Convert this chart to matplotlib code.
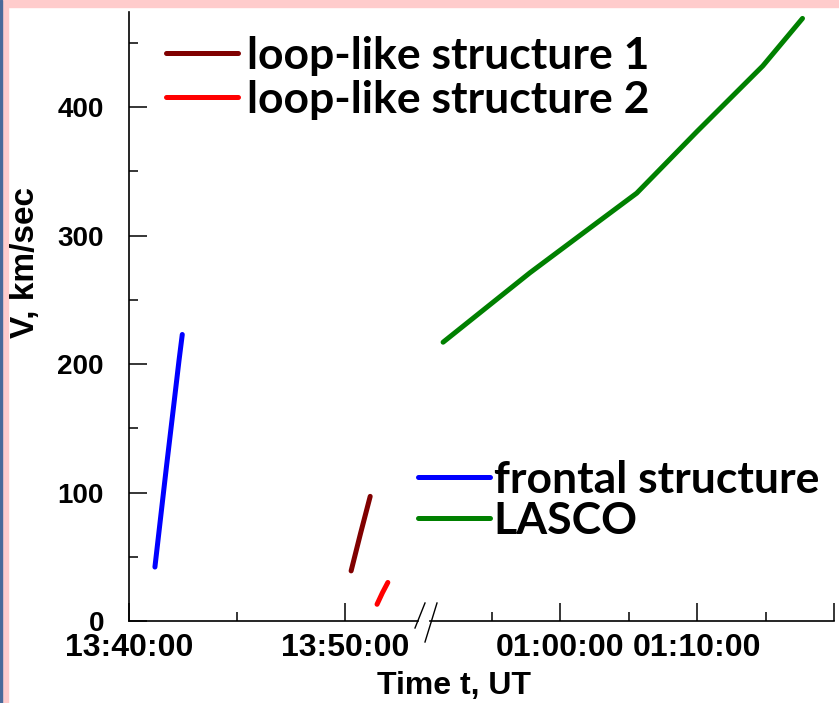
import matplotlib
matplotlib.use("Agg")
import matplotlib.pyplot as plt
from matplotlib.lines import Line2D
from matplotlib.ticker import MultipleLocator, FuncFormatter

# --- data ---
frontal_t = ["13:41:12", "13:41:28", "13:41:44", "13:41:55", "13:42:06", "13:42:19", "13:42:28"]
frontal_v = [42, 81, 120, 146, 172, 203, 223]

loop1_t = ["13:50:17", "13:50:43", "13:51:10"]
loop1_v = [39, 68, 97]

loop2_t = ["13:51:29", "13:51:44", "13:51:59"]
loop2_v = [13, 22, 30]

lasco_t = ["00:51:28", "00:57:48", "01:02:42", "01:05:36", "01:10:00", "01:14:48", "01:17:42"]
lasco_v = [217, 271, 310, 333, 381, 432, 469]

left_ticks = ["13:40:00", "13:50:00"]
right_ticks = ["01:00:00", "01:10:00", "01:20:00"]


def to_min(s):
    h, m, sec = [int(v) for v in s.split(":")]
    return h * 60 + m + sec / 60.0


def fmt(x, pos):
    x = int(round(x * 60))
    return "%02d:%02d:%02d" % (x // 3600, (x // 60) % 60, x % 60)


W, H = 839, 703
fig = plt.figure(figsize=(W / 100, H / 100), dpi=100)
fig.patch.set_facecolor("white")

# pink frame of the original screenshot
fig.add_artist(plt.Rectangle((0, 1 - 7 / H), 1, 7 / H, transform=fig.transFigure,
                             color="#ffcccc", zorder=0))
fig.add_artist(plt.Rectangle((0, 0), 8 / W, 1, transform=fig.transFigure,
                             color="#ffcccc", zorder=0))
fig.add_artist(plt.Rectangle((0, 0), 1.5 / W, 1, transform=fig.transFigure,
                             color="#4a6a9a", zorder=0))


def px_axes(x0, x1, y0=12, y1=621):
    return fig.add_axes([x0 / W, (H - y1) / H, (x1 - x0) / W, (y1 - y0) / H])


ax1 = px_axes(129, 418)
ax2 = px_axes(430, 834)

ymax = 474
t0 = to_min("13:40:00")
ax1.set_xlim(t0, t0 + (418 - 129) / 21.6)
ax2.set_xlim(to_min("01:00:00") - (560 - 430) / 13.7, to_min("01:20:00"))
for ax in (ax1, ax2):
    ax.set_ylim(0, ymax)
    ax.spines["top"].set_visible(False)
    ax.spines["right"].set_visible(False)
    ax.spines["bottom"].set_linewidth(1.2)
    ax.spines["left"].set_linewidth(1.2)
    ax.patch.set_alpha(0)
    ax.xaxis.set_minor_locator(MultipleLocator(5))
    ax.tick_params(axis="both", which="major", direction="in", length=13, width=1.1)
    ax.tick_params(axis="both", which="minor", direction="in", length=6.5, width=1.1)
    ax.tick_params(axis="x", which="major", pad=9)

ax1.set_xticks([to_min(s) for s in left_ticks])
ax2.set_xticks([to_min(s) for s in right_ticks])
ax1.xaxis.set_major_formatter(FuncFormatter(fmt))
ax2.xaxis.set_major_formatter(FuncFormatter(lambda x, p: "" if x >= to_min("01:20:00") else fmt(x, p)))
ax1.yaxis.set_major_locator(MultipleLocator(100))
ax1.yaxis.set_minor_locator(MultipleLocator(50))
ax1.tick_params(axis="y", which="major", pad=18)
ax2.spines["left"].set_visible(False)
ax2.tick_params(axis="y", which="both", left=False, labelleft=False)

tick_font = dict(family="Liberation Sans", weight="bold")
for lab in ax1.get_yticklabels():
    lab.set(size=20, **tick_font)
for lab in ax1.get_xticklabels() + ax2.get_xticklabels():
    lab.set(size=23, **tick_font)

lw = 3.6
l1, = ax1.plot([to_min(s) for s in loop1_t], loop1_v, color="#800000", lw=lw,
               solid_capstyle="round", label="loop-like structure 1")
l2, = ax1.plot([to_min(s) for s in loop2_t], loop2_v, color="#ff0000", lw=lw,
               solid_capstyle="round", label="loop-like structure 2")
l3, = ax1.plot([to_min(s) for s in frontal_t], frontal_v, color="#0000ff", lw=lw,
               solid_capstyle="round", label="frontal structure")
l4, = ax2.plot([to_min(s) for s in lasco_t], lasco_v, color="#008000", lw=lw,
               solid_capstyle="round", label="LASCO")

ax1.set_ylabel("V, km/sec", fontsize=24, fontweight="bold", family="Liberation Sans")
ax1.yaxis.set_label_coords(41 / W, (H - 262) / H, transform=fig.transFigure)
fig.text(454 / W, (H - 686) / H, "Time t, UT", ha="center", va="center",
         fontsize=23, fontweight="bold", family="Liberation Sans")

# axis break marks
for xa, ya, xb, yb in [(415, 628, 425, 603), (425, 642, 437, 603)]:
    fig.add_artist(Line2D([xa / W, xb / W], [(H - ya) / H, (H - yb) / H],
                          transform=fig.transFigure, color="black", lw=1.0))

leg_font = dict(family="Lato", weight="bold", size=32)
leg1 = fig.legend(handles=[l1, l2], loc="upper left", bbox_to_anchor=(166 / W, (H - 36) / H),
                  frameon=False, prop=leg_font, handlelength=1.62, handletextpad=0.2,
                  labelspacing=0.08, borderpad=0, borderaxespad=0)
leg2 = fig.legend(handles=[l3, l4], loc="upper left", bbox_to_anchor=(418 / W, (H - 460) / H),
                  frameon=False, prop=leg_font, handlelength=1.62, handletextpad=0.08,
                  labelspacing=0.02, borderpad=0, borderaxespad=0)

fig.savefig("out.png", dpi=100)
